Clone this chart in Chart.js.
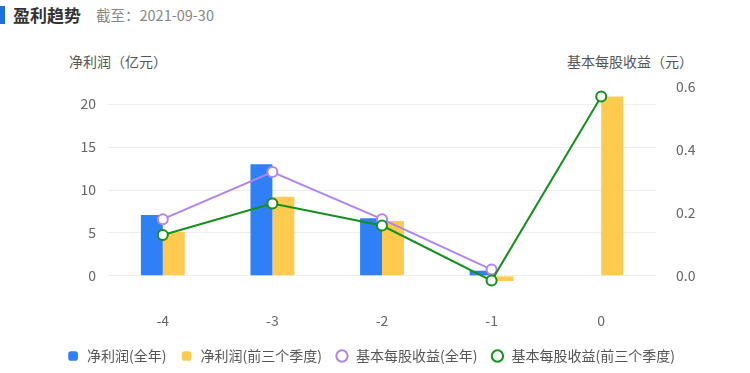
<!DOCTYPE html>
<html>
<head>
<meta charset="utf-8">
<script src="https://cdn.jsdelivr.net/npm/chart.js@4/dist/chart.umd.min.js"></script>
<style>
  body { margin: 0; background: #fff; font-family: "Noto Sans CJK SC", "Noto Sans", sans-serif; }
  #wrap { position: relative; width: 750px; height: 373px; overflow: hidden; }
  #bar { position: absolute; left: 0; top: 6px; width: 5px; height: 18px; background: #1f6fe0; }
  #title { position: absolute; left: 13px; top: 2px; font-size: 17px; font-weight: bold; color: #333; }
  #date { position: absolute; left: 96px; top: 4px; font-size: 14.5px; color: #888; }
  .axt { position: absolute; top: 51px; font-size: 14px; color: #555; }
  canvas { position: absolute; left: 0; top: 0; }
</style>
</head>
<body>
<div id="wrap">
  <div id="bar"></div>
  <div id="title">盈利趋势</div>
  <div id="date">截至：2021-09-30</div>
  <div class="axt" style="left:69px">净利润（亿元）</div>
  <div class="axt" style="left:567px">基本每股收益（元）</div>
  <canvas id="profitChart" width="750" height="373"></canvas>
</div>
<script>
// years relative to the report date
const categories = ['-4', '-3', '-2', '-1', '0'];
const profitYear = [7.1, 13.0, 6.7, 0.6, null];
const profitQ3 = [5.1, 9.2, 6.4, -0.6, 20.9];
const epsYear = [0.18, 0.33, 0.18, 0.02, null];
const epsQ3 = [0.13, 0.23, 0.16, -0.015, 0.57];
const leftTicks = [0, 5, 10, 15, 20];
const rightTicks = [0, 0.2, 0.4, 0.6];

const font = { family: '"Noto Sans CJK SC", "Noto Sans", sans-serif', size: 14 };

function renderChart() {
  const ctx = document.getElementById('profitChart').getContext('2d');
  new Chart(ctx, {
    data: {
      labels: categories,
      datasets: [
        { type: 'bar', label: '净利润(全年)', data: profitYear, yAxisID: 'y',
          backgroundColor: '#2f80f7', order: 2, pointStyle: 'rectRounded',
          barPercentage: 1, categoryPercentage: 0.4 },
        { type: 'bar', label: '净利润(前三个季度)', data: profitQ3, yAxisID: 'y',
          backgroundColor: '#ffcb4f', order: 2, pointStyle: 'rectRounded',
          barPercentage: 1, categoryPercentage: 0.4 },
        { type: 'line', label: '基本每股收益(全年)', data: epsYear, yAxisID: 'y1',
          borderColor: '#b383ef', backgroundColor: '#fff', borderWidth: 2,
          pointRadius: 5, pointBorderWidth: 2, pointBackgroundColor: '#fff',
          pointStyle: 'circle', order: 1 },
        { type: 'line', label: '基本每股收益(前三个季度)', data: epsQ3, yAxisID: 'y1',
          borderColor: '#14901c', backgroundColor: '#fff', borderWidth: 2,
          pointRadius: 5, pointBorderWidth: 2, pointBackgroundColor: '#fff',
          pointStyle: 'circle', order: 0 }
      ]
    },
    options: {
      responsive: false,
      animation: false,
      layout: { padding: { top: 87, left: 0, right: 9, bottom: 0 } },
      plugins: {
        tooltip: { enabled: false },
        legend: {
          position: 'bottom',
          labels: {
            usePointStyle: true,
            boxHeight: 8,
            padding: 13,
            color: '#555',
            font: { family: font.family, size: 14 },
            sort: (a, b) => a.datasetIndex - b.datasetIndex
          }
        }
      },
      scales: {
        x: {
          grid: { display: false },
          border: { display: false },
          ticks: { color: '#666', font: font, padding: 11 },
          afterFit: s => { s.height = 43; }
        },
        y: {
          position: 'left',
          min: -2, max: 22,
          afterBuildTicks: s => { s.ticks = leftTicks.map(v => ({ value: v })); },
          afterFit: s => { s.width = 108; },
          grid: { color: '#eeeeee', drawTicks: false },
          border: { display: false },
          ticks: { color: '#666', font: font, padding: 12 }
        },
        y1: {
          position: 'right',
          min: -17 / 312, max: 0.6,
          afterBuildTicks: s => { s.ticks = rightTicks.map(v => ({ value: v })); },
          afterFit: s => { s.width = 85; },
          grid: { display: false },
          border: { display: false },
          ticks: { color: '#666', font: font, padding: 12,
            callback: v => v.toFixed(1) }
        }
      }
    }
  });
}

renderChart();
</script>
</body>
</html>
